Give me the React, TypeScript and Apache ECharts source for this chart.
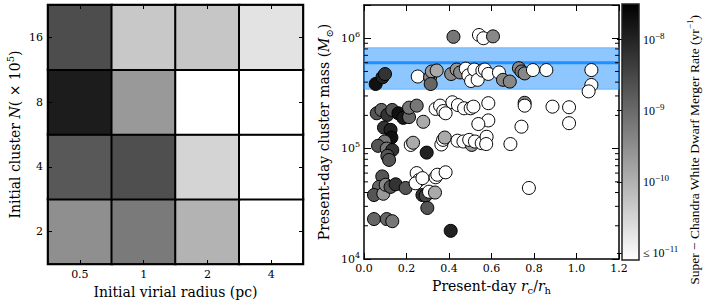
import React, { useEffect, useRef } from 'react';
import * as echarts from 'echarts';

// ---------- data ----------
const radii = ['0.5', '1', '2', '4'];
const clusterN = ['2', '4', '8', '16'];
// merger rate (yr^-1) for each cell, one row per clusterN, columns follow radii
const heatRatesN2 = [3.0e-10, 5.9e-10, 9.3e-11, 0];
const heatRatesN4 = [1.8e-9, 2.4e-9, 3.2e-11, 0];
const heatRatesN8 = [1.26e-8, 2.2e-10, 0, 0];
const heatRatesN16 = [2.6e-9, 4.8e-11, 5.0e-11, 2.0e-11];
const heatRates = [heatRatesN2, heatRatesN4, heatRatesN8, heatRatesN16];

const rcOverRh = [
  0.421, 0.541, 0.562, 0.607,
  0.055, 0.087, 0.099, 0.253, 0.311, 0.319, 0.342, 0.314, 0.410, 0.436, 0.452, 0.479, 0.491, 0.504, 0.519, 0.535,
  0.557, 0.569, 0.585, 0.635, 0.654, 0.686, 0.729, 0.741, 0.756, 0.795, 0.858, 1.07, 1.07, 1.057,
  0.060, 0.082, 0.110, 0.133, 0.162, 0.185, 0.212, 0.212, 0.248, 0.279, 0.337, 0.358, 0.373, 0.384, 0.416, 0.442,
  0.471, 0.502, 0.515, 0.585, 0.756, 0.756, 0.887, 0.965, 0.741, 0.965, 0.585, 0.538,
  0.094, 0.125, 0.129, 0.097, 0.066, 0.107, 0.133, 0.110, 0.118, 0.220, 0.231, 0.295, 0.364, 0.372, 0.380, 0.440,
  0.468, 0.507, 0.495, 0.522, 0.554, 0.577, 0.575, 0.689,
  0.086, 0.071, 0.047, 0.091, 0.102, 0.125, 0.149, 0.196, 0.248, 0.259, 0.243, 0.275, 0.337, 0.345, 0.384, 0.275,
  0.290, 0.306, 0.334, 0.298, 0.776,
  0.047, 0.107, 0.133, 0.408,
];
const clusterMass = [
  1.03e6, 1.07e6, 1.0e6, 1.04e6,
  3.85e5, 4.43e5, 4.74e5, 4.5e5, 4.43e5, 5.0e5, 5.1e5, 3.85e5, 4.74e5, 5.2e5, 4.9e5, 5.3e5, 4.6e5, 4.1e5, 5.2e5, 4.2e5,
  5.1e5, 5.2e5, 4.75e5, 4.9e5, 4.2e5, 4.05e5, 5.35e5, 5.0e5, 4.8e5, 5.15e5, 5.15e5, 5.15e5, 3.77e5, 3.3e5,
  2.09e5, 2.24e5, 2.02e5, 2.24e5, 2.09e5, 1.9e5, 1.93e5, 2.35e5, 2.45e5, 1.75e5, 2.29e5, 2.45e5, 2.19e5, 2.09e5, 2.63e5, 2.48e5,
  2.32e5, 2.32e5, 2.4e5, 2.58e5, 2.6e5, 2.45e5, 2.4e5, 2.37e5, 1.58e5, 1.7e5, 1.8e5, 1.67e5,
  1.55e5, 1.48e5, 1.26e5, 1.16e5, 1.06e5, 1.0e5, 9.7e4, 8.6e4, 7.9e4, 1.08e5, 1.13e5, 9.2e4, 1.09e5, 1.2e5, 1.26e5, 1.18e5,
  1.16e5, 1.08e5, 1.2e5, 1.16e5, 1.12e5, 1.28e5, 1.1e5, 1.1e5,
  5.6e4, 4.5e4, 3.8e4, 3.9e4, 4.7e4, 4.5e4, 4.75e4, 4.4e4, 6.0e4, 5.2e4, 4.85e4, 5.4e4, 5.5e4, 5.8e4, 6.1e4, 3.8e4,
  3.75e4, 4.07e4, 4.0e4, 2.9e4, 4.4e4,
  2.3e4, 2.3e4, 2.2e4, 1.8e4,
];
const mergerRate = [
  6.6e-10, 0, 0, 3.8e-10,
  1.8e-8, 1.05e-8, 6.0e-9, 0, 3.8e-10, 2.2e-10, 1.26e-10, 1.15e-9, 3.8e-10, 2.2e-10, 3.8e-10, 0, 0, 0, 0, 0,
  0, 0, 0, 0, 3.8e-10, 3.8e-10, 3.8e-10, 6.6e-10, 3.8e-10, 0, 0, 0, 0, 0,
  2.0e-9, 1.15e-9, 6.0e-9, 2.0e-9, 1.8e-8, 1.4e-8, 1.15e-9, 6.6e-10, 6.6e-10, 1.26e-10, 0, 0, 0, 0, 0, 0,
  0, 0, 0, 0, 3.8e-10, 0, 0, 0, 0, 0, 0, 0,
  6.0e-9, 1.05e-8, 1.8e-8, 6.6e-10, 2.0e-9, 6.6e-10, 6.0e-9, 2.0e-9, 2.0e-9, 0, 1.26e-10, 1.05e-8, 0, 0, 1.26e-10, 0,
  0, 2.2e-10, 0, 0, 0, 0, 0, 0,
  2.0e-9, 1.15e-9, 2.0e-9, 2.2e-10, 3.8e-10, 2.0e-9, 6.0e-9, 2.0e-9, 0, 0, 0, 0, 0, 0, 0, 6.0e-9,
  3.5e-9, 0, 1.26e-10, 2.0e-9, 0,
  1.15e-9, 1.15e-9, 6.6e-10, 1.05e-8,
];

const bandLow = 3.45e5;
const bandHigh = 8.2e5;
const bandCenter = 6.0e5;

const massMin = 1e4;
const massMax = 2e6;
const rcMin = 0;
const rcMax = 1.2;
const rcStep = 0.2;
const minorMassTicks = [2e4, 3e4, 4e4, 5e4, 6e4, 7e4, 8e4, 9e4, 2e5, 3e5, 4e5, 5e5, 6e5, 7e5, 8e5, 9e5];

const rateLogMin = -11.1;
const rateLogMax = -7.5;
const colorbarTicks = [-11, -10, -9, -8];

// ---------- styling ----------
const SERIF = 'DejaVu Serif';
const MATH = 'Liberation Serif';
const BLACK = '#000';

const clampLog = (r: number) => Math.max(rateLogMin, Math.log10(r));

const nameRich = {
  t: { fontFamily: SERIF, fontSize: 14, lineHeight: 20, verticalAlign: 'middle', color: BLACK },
  i: { fontFamily: SERIF, fontStyle: 'italic', fontSize: 14, lineHeight: 20, verticalAlign: 'middle', color: BLACK },
  sub: { fontFamily: SERIF, fontSize: 10, lineHeight: 14, verticalAlign: 'bottom', color: BLACK },
  sup: { fontFamily: SERIF, fontSize: 10, lineHeight: 10, verticalAlign: 'top', color: BLACK },
};

const tickRich = {
  b: { fontFamily: SERIF, fontSize: 11, lineHeight: 16, verticalAlign: 'middle', color: BLACK },
  s: { fontFamily: SERIF, fontSize: 8, lineHeight: 9, verticalAlign: 'top', color: BLACK },
};

const cbRich = {
  b: { fontFamily: MATH, fontSize: 12, lineHeight: 16, verticalAlign: 'middle', color: BLACK },
  s: { fontFamily: MATH, fontSize: 9, lineHeight: 9, verticalAlign: 'top', color: BLACK },
};

function buildOption() {
  const heatData: number[][] = [];
  heatRates.forEach((row, yi) => row.forEach((r, xi) => heatData.push([xi, yi, clampLog(r)])));
  const scatterData = rcOverRh.map((x, i) => [x, clusterMass[i], clampLog(mergerRate[i])]);

  const axisLine = { show: true, onZero: false, lineStyle: { color: BLACK, width: 1.5 } };
  const heatTick = { show: true, inside: true, length: 4, alignWithLabel: true, lineStyle: { color: BLACK, width: 1 } };

  return {
    animation: false,
    backgroundColor: '#fff',
    grid: [
      { left: 48, top: 5, width: 255, height: 259, outerBoundsMode: 'none', containLabel: false },
      { left: 364, top: 5, width: 255, height: 254, outerBoundsMode: 'none', containLabel: false },
      { left: 622, top: 4, width: 17, height: 256, outerBoundsMode: 'none', containLabel: false },
    ],
    xAxis: [
      {
        type: 'category', gridIndex: 0, data: radii, position: 'bottom', z: 5,
        axisLine, axisTick: heatTick,
        axisLabel: { fontFamily: SERIF, fontSize: 11, color: BLACK, margin: 5 },
        splitLine: { show: false },
        name: '{t|Initial virial radius (pc)}', nameLocation: 'middle', nameGap: 12,
        nameTextStyle: { rich: nameRich },
      },
      {
        type: 'category', gridIndex: 0, data: radii, position: 'top', z: 5,
        axisLine, axisTick: heatTick, axisLabel: { show: false }, splitLine: { show: false },
      },
      {
        type: 'value', gridIndex: 1, min: rcMin, max: rcMax, interval: rcStep, position: 'bottom',
        axisLine, axisTick: { show: true, inside: true, length: 6, lineStyle: { color: BLACK, width: 1 } },
        axisLabel: { fontFamily: SERIF, fontSize: 11, color: BLACK, margin: 4, formatter: (v: number) => v.toFixed(1) },
        splitLine: { show: false },
        name: '{t|Present-day }{i|r}{sub|c}{t|/}{i|r}{sub|h}', nameLocation: 'middle', nameGap: 16,
        nameTextStyle: { rich: nameRich },
      },
      {
        type: 'value', gridIndex: 1, min: rcMin, max: rcMax, interval: rcStep, position: 'top',
        axisLine, axisTick: { show: true, inside: true, length: 6, lineStyle: { color: BLACK, width: 1 } },
        axisLabel: { show: false }, splitLine: { show: false },
      },
      {
        type: 'value', gridIndex: 2, min: 0, max: 1, show: false,
      },
    ],
    yAxis: [
      {
        type: 'category', gridIndex: 0, data: clusterN, position: 'left', z: 5,
        axisLine, axisTick: heatTick,
        axisLabel: { fontFamily: SERIF, fontSize: 11, color: BLACK, margin: 5 },
        splitLine: { show: false },
        name: '{t|Initial cluster }{i|N}{t|( × 10}{sup|5}{t|)}', nameLocation: 'middle', nameGap: 23,
        nameTextStyle: { rich: nameRich },
      },
      {
        type: 'category', gridIndex: 0, data: clusterN, position: 'right', z: 5,
        axisLine, axisTick: heatTick, axisLabel: { show: false }, splitLine: { show: false },
      },
      {
        type: 'log', logBase: 10, gridIndex: 1, min: massMin, max: massMax, position: 'left',
        axisLine, axisTick: { show: true, inside: true, length: 7, lineStyle: { color: BLACK, width: 1 } },
        axisLabel: {
          margin: 4, rich: tickRich,
          formatter: (v: number) => {
            const l = Math.log10(v);
            const r = Math.round(l);
            return Math.abs(l - r) < 1e-6 ? `{b|10}{s|${r}}` : '';
          },
        },
        splitLine: { show: false },
        name: '{t|Present-day cluster mass (}{i|M}{sub|⊙}{t|)}', nameLocation: 'middle', nameGap: 30,
        nameTextStyle: { rich: nameRich },
      },
      {
        type: 'log', logBase: 10, gridIndex: 1, min: massMin, max: massMax, position: 'right',
        axisLine, axisTick: { show: true, inside: true, length: 7, lineStyle: { color: BLACK, width: 1 } },
        axisLabel: { show: false }, splitLine: { show: false },
      },
      {
        type: 'value', gridIndex: 2, min: rateLogMin, max: rateLogMax, position: 'right',
        axisLine: { show: false },
        axisTick: { show: true, inside: true, length: 5, customValues: colorbarTicks, lineStyle: { color: BLACK, width: 1 } },
        axisLabel: {
          show: true, margin: 4, rich: cbRich, customValues: colorbarTicks,
          formatter: (v: number) => {
            const r = Math.round(v);
            return r === colorbarTicks[0] ? `{b|≤ 10}{s|−${-r}}` : `{b|10}{s|−${-r}}`;
          },
        },
        splitLine: { show: false },
      },
    ],
    visualMap: [
      {
        type: 'continuous', show: false, seriesIndex: 0, dimension: 2,
        min: rateLogMin, max: rateLogMax, inRange: { color: ['#ffffff', '#000000'] },
      },
      {
        type: 'continuous', show: false, seriesIndex: 2, dimension: 2,
        min: rateLogMin, max: rateLogMax, inRange: { color: ['#ffffff', '#000000'] },
      },
    ],
    series: [
      {
        type: 'heatmap', xAxisIndex: 0, yAxisIndex: 0, data: heatData,
        itemStyle: { borderColor: BLACK, borderWidth: 2 },
        emphasis: { disabled: true },
      },
      {
        type: 'custom', xAxisIndex: 2, yAxisIndex: 2, z: 1, silent: true,
        data: [[0.6, bandLow, bandHigh, bandCenter]],
        encode: { x: 0, y: 1 },
        renderItem: (params: any, api: any) => {
          const cs = params.coordSys;
          const yLow = api.coord([0.6, api.value(1)])[1];
          const yHigh = api.coord([0.6, api.value(2)])[1];
          const yMid = api.coord([0.6, api.value(3)])[1];
          return {
            type: 'group',
            children: [
              {
                type: 'rect',
                shape: { x: cs.x, y: yHigh, width: cs.width, height: yLow - yHigh },
                style: { fill: 'rgba(30,144,255,0.5)', stroke: 'rgba(30,144,255,0.5)', lineWidth: 1 },
              },
              {
                type: 'line',
                shape: { x1: cs.x, y1: yMid, x2: cs.x + cs.width, y2: yMid },
                style: { stroke: '#1e90ff', lineWidth: 3 },
              },
            ],
          };
        },
      },
      {
        type: 'scatter', xAxisIndex: 2, yAxisIndex: 2, z: 3, data: scatterData,
        symbol: 'circle', symbolSize: 13,
        itemStyle: { borderColor: BLACK, borderWidth: 1, opacity: 1 },
        emphasis: { disabled: true },
      },
      {
        type: 'custom', xAxisIndex: 2, yAxisIndex: 2, z: 4, silent: true,
        data: minorMassTicks.map((v) => [0.6, v]),
        encode: { x: 0, y: 1 },
        renderItem: (params: any, api: any) => {
          const cs = params.coordSys;
          const y = api.coord([0.6, api.value(1)])[1];
          return {
            type: 'group',
            children: [
              { type: 'line', shape: { x1: cs.x, y1: y, x2: cs.x + 4, y2: y }, style: { stroke: BLACK, lineWidth: 1 } },
              { type: 'line', shape: { x1: cs.x + cs.width - 4, y1: y, x2: cs.x + cs.width, y2: y }, style: { stroke: BLACK, lineWidth: 1 } },
            ],
          };
        },
      },
      {
        type: 'custom', xAxisIndex: 4, yAxisIndex: 4, z: 1, silent: true,
        data: [[0.5, rateLogMin, rateLogMax]],
        encode: { x: 0, y: 1 },
        renderItem: (params: any) => {
          const cs = params.coordSys;
          return {
            type: 'rect',
            shape: { x: cs.x, y: cs.y, width: cs.width, height: cs.height },
            style: {
              fill: new echarts.graphic.LinearGradient(0, 1, 0, 0, [
                { offset: 0, color: '#ffffff' },
                { offset: 1, color: '#000000' },
              ]),
              stroke: '#222',
              lineWidth: 1.5,
            },
          };
        },
      },
    ],
    graphic: [
      {
        type: 'text',
        x: 694,
        y: 150,
        rotation: Math.PI / 2,
        style: {
          text: '{t|Super − Chandra White Dwarf Merger Rate (yr}{s|−1}{t|)}',
          rich: {
            t: { fontFamily: MATH, fontSize: 13.5, lineHeight: 18, verticalAlign: 'middle', fill: BLACK },
            s: { fontFamily: MATH, fontSize: 9, lineHeight: 9, verticalAlign: 'top', fill: BLACK },
          },
          align: 'center',
          verticalAlign: 'middle',
          fill: BLACK,
        },
      },
    ],
  };
}

export default function App() {
  const ref = useRef<HTMLDivElement>(null);
  useEffect(() => {
    if (!ref.current) return;
    const chart = echarts.init(ref.current, undefined, { renderer: 'svg' });
    chart.setOption(buildOption() as any);
    return () => chart.dispose();
  }, []);
  return (
    <div
      ref={ref}
      style={{ position: 'absolute', left: 0, top: 0, width: 703, height: 301, background: '#fff' }}
    />
  );
}
